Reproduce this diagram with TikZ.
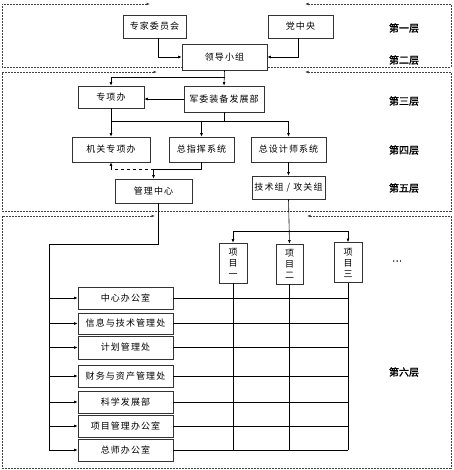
\documentclass[tikz,border=0pt]{standalone}
\usepackage{fontspec}
\newfontfamily\cjk[LetterSpace=12]{Noto Sans CJK SC}
\newfontfamily\cjkb[FakeBold=1.5]{Noto Sans CJK SC}
\usetikzlibrary{arrows.meta}
\begin{document}
\begin{tikzpicture}[x=1pt,y=-1pt,
  every node/.style={font=\cjk\fontsize{9}{10}\selectfont},
  box/.style={draw=black!80,line width=0.6pt,fill=white,inner sep=0pt,minimum height=23pt},
  vbox/.style={draw=black!80,line width=0.6pt,fill=white,inner sep=0pt,minimum width=28pt,minimum height=40pt,align=center,font=\cjk\fontsize{9}{11}\selectfont},
  lay/.style={font=\cjkb\fontsize{10}{11}\selectfont},
  ln/.style={draw=black,line width=0.6pt},
  arr/.style={ln,-{Latex[length=3.5pt,width=2.8pt]}},
  frame/.style={draw=black!75,line width=0.7pt,dash pattern=on 2pt off 1pt,{Latex[length=3.5pt,width=2.8pt]}-{Latex[length=3.5pt,width=2.8pt]}}]
\useasboundingbox (0,0) rectangle (453,470);
% frames
\draw[frame] (150,4) -- (2,4) -- (2,67) -- (451,67) -- (451,4) -- (305,4);
\draw[frame] (157,72) -- (2,72) -- (2,211) -- (451,211) -- (451,72) -- (305,72);
\draw[frame] (155,216) -- (2,216) -- (2,468) -- (451,468) -- (451,216) -- (307,216);
% nodes
\node[box,minimum width=63pt] (zj) at (154.5,26.5) {专家委员会};
\node[box,minimum width=65pt] (dzy) at (300.5,26.5) {党中央};
\node[box,minimum width=85pt,minimum height=26pt] (ld) at (224.5,57) {领导小组};
\node[box,minimum width=66pt,minimum height=22pt] (zxb) at (111,97) {专项办};
\node[box,minimum width=80pt,minimum height=26pt] (jw) at (224,99) {军委装备发展部};
\node[box,minimum width=78pt,minimum height=25pt] (jg) at (111,149.5) {机关专项办};
\node[box,minimum width=65pt,minimum height=25pt] (zzh) at (201.5,149.5) {总指挥系统};
\node[box,minimum width=75pt,minimum height=25pt] (zsj) at (288.5,149.5) {总设计师系统};
\node[box,minimum width=77pt,minimum height=24pt] (gl) at (153.5,191) {管理中心};
\node[box,minimum width=73pt,minimum height=23pt] (js) at (288.5,187.5) {技术组 / 攻关组};
\node[vbox] (p1) at (233,263) {项\\目\\一};
\node[vbox,minimum width=27pt] (p2) at (289.5,264) {项\\目\\二};
\node[vbox] (p3) at (348,262.5) {项\\目\\三};
\node[font=\cjkb\fontsize{9}{10}\selectfont] (dots) at (397,261) {…};
\node[box,minimum width=95pt,minimum height=22pt] (o1) at (125.5,298) {中心办公室};
\node[box,minimum width=95pt,minimum height=21pt] (o2) at (125.5,323.5) {信息与技术管理处};
\node[box,minimum width=95pt,minimum height=23pt] (o3) at (125.5,347.5) {计划管理处};
\node[box,minimum width=95pt,minimum height=22pt] (o4) at (125.5,376) {财务与资产管理处};
\node[box,minimum width=95pt,minimum height=22pt] (o5) at (125.5,402) {科学发展部};
\node[box,minimum width=95pt,minimum height=22pt] (o6) at (125.5,426) {项目管理办公室};
\node[box,minimum width=95pt,minimum height=22pt] (o7) at (125.5,450) {总师办公室};
% layer labels
\node[lay] (l1) at (404,28) {第一层};
\node[lay] (l2) at (404,60) {第二层};
\node[lay] (l3) at (404,101) {第三层};
\node[lay] (l4) at (404,150) {第四层};
\node[lay] (l5) at (404,188) {第五层};
\node[lay] (l6) at (404,372) {第六层};
% connectors
\draw[arr] ([xshift=3.5pt]zj.south) |- (ld.west);
\draw[arr] ([xshift=-2.5pt]dzy.south) |- (ld.east);
\draw[arr] (ld.south) -- (jw.north);
\coordinate (b1) at (224.5,77);
\draw[arr] (b1) -| (zxb.north);
\coordinate (b2) at (224,121);
\draw[ln] (jw.south) -- (b2);
\draw[ln] (b2 -| zxb.south) -- (b2 -| zsj.north);
\draw[arr] (zxb.south) -- (jg.north);
\draw[arr] (b2 -| zzh.north) -- (zzh.north);
\draw[arr] (b2 -| zsj.north) -- (zsj.north);
\draw[arr] (jw.west) -- (jw.west -| zxb.east);
\coordinate (b3) at (201.5,169);
\draw[ln] (zzh.south) -- (b3) -- (b3 -| gl.north);
\draw[arr] (b3 -| gl.north) -- (gl.north);
\draw[arr,dashed] (b3 -| gl.north) -| (jg.south);
\draw[arr] (zsj.south) -- (js.north);
\coordinate (c1) at (49,244);
\draw[ln] ([xshift=5pt]gl.south) |- (c1) -- (c1 |- o7.west);
\foreach \o in {o1,o2,o3,o4,o5,o6,o7}{
  \draw[arr] (c1 |- \o.west) -- (\o.west);
  \draw[ln] (\o.east) -- (\o.east -| p3.south);
}
\draw[arr] (js.south) -- (p2.north);
\coordinate (b4) at (288.5,231);
\draw[ln] (b4 -| p1.north) -- (b4 -| p3.north);
\draw[arr] (b4 -| p1.north) -- (p1.north);
\draw[arr] (b4 -| p3.north) -- (p3.north);
\foreach \p in {p1,p2,p3}{
  \draw[ln] (\p.south) -- (\p.south |- o7.east);
}
\end{tikzpicture}
\end{document}
